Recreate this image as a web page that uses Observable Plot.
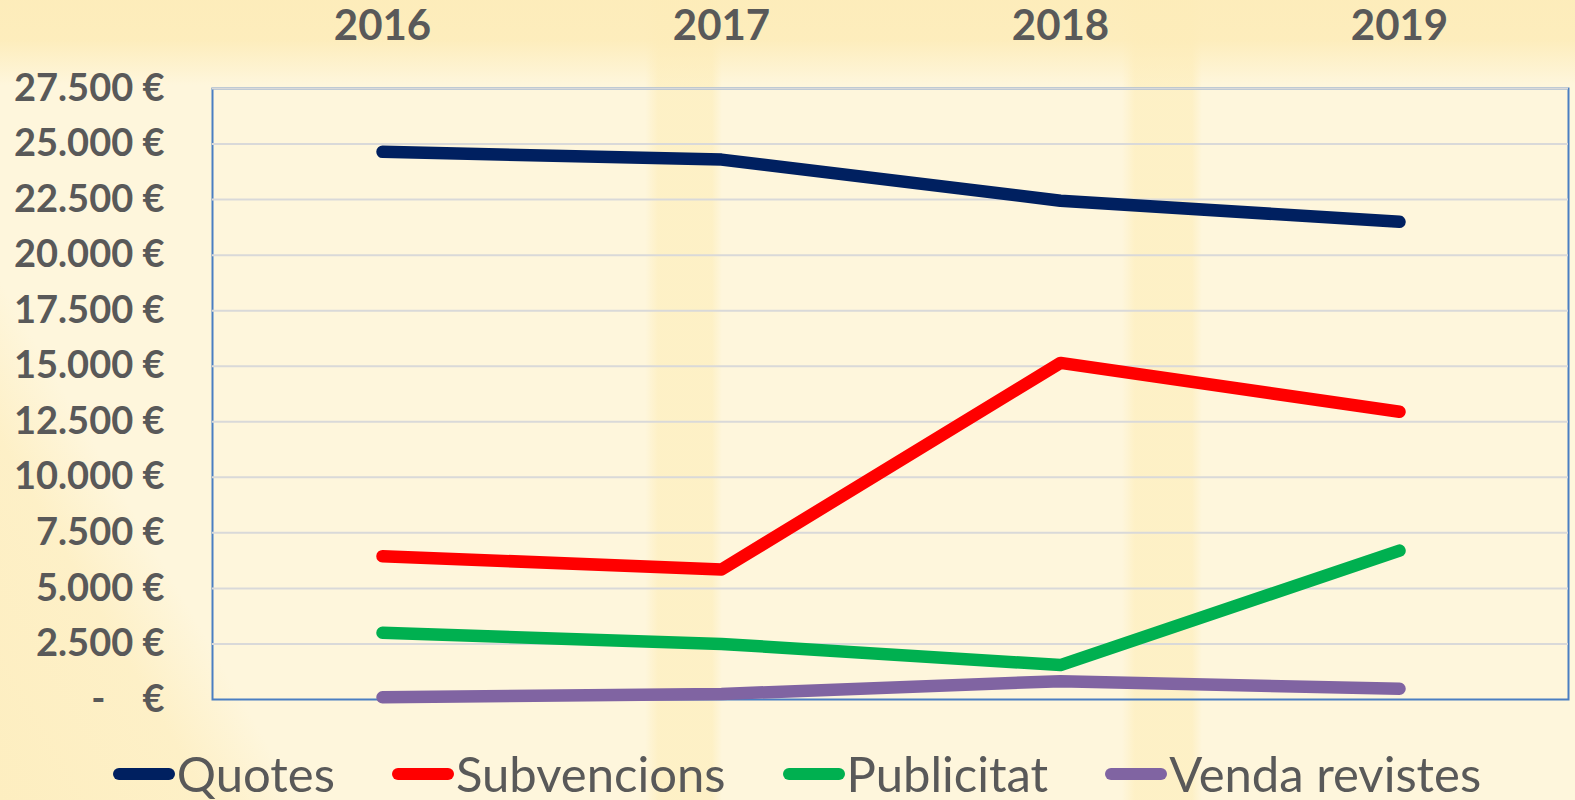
<!DOCTYPE html>
<html>
<head>
<meta charset="utf-8">
<script src="https://cdn.jsdelivr.net/npm/d3@7"></script>
<script src="https://cdn.jsdelivr.net/npm/@observablehq/plot@0.6"></script>
<style>
  html, body { margin: 0; padding: 0; }
  body {
    width: 1575px; height: 800px; overflow: hidden; position: relative;
    font-family: Lato, "Open Sans", sans-serif;
    background:
      linear-gradient(to bottom, rgba(253,236,185,0.95) 0px, rgba(253,236,185,0.9) 40px, rgba(254,246,220,0) 85px),
      linear-gradient(to right, rgba(0,0,0,0) 645px, rgba(253,236,180,0.55) 658px, rgba(253,236,180,0.55) 712px, rgba(0,0,0,0) 722px),
      linear-gradient(to right, rgba(0,0,0,0) 1122px, rgba(253,236,180,0.55) 1135px, rgba(253,236,180,0.55) 1192px, rgba(0,0,0,0) 1202px),
      linear-gradient(60deg, rgba(253,236,185,0.8) 0px, rgba(253,236,185,0.6) 180px, rgba(254,246,220,0) 260px),
      #FEF6DC;
  }
  #chart { position: absolute; left: 0; top: 0; }
  #legend {
    position: absolute; left: 0; top: 749px; width: 1575px;
    display: flex; justify-content: center; align-items: center;
    padding-left: 19px; box-sizing: border-box;
    font-family: Lato, "Open Sans", sans-serif; font-size: 49px; line-height: 1;
    color: #595959; gap: 57px;
  }
  .item { display: flex; align-items: center; white-space: nowrap; }
  .sw { width: 62px; height: 12px; border-radius: 6px; margin-right: 2px; }
</style>
</head>
<body>
<div id="chart"></div>
<div id="legend"></div>
<script>
const years = ["2016", "2017", "2018", "2019"];
const seriesNames = ["Quotes", "Subvencions", "Publicitat", "Venda revistes"];
const seriesColors = ["#002060", "#FF0000", "#00B050", "#8064A2"];
const quotes = [24650, 24300, 22450, 21500];
const subvencions = [6450, 5850, 15150, 12950];
const publicitat = [3000, 2500, 1550, 6700];
const vendaRevistes = [100, 250, 825, 480];
const yTicks = [0, 2500, 5000, 7500, 10000, 12500, 15000, 17500, 20000, 22500, 25000, 27500];

const seriesValues = [quotes, subvencions, publicitat, vendaRevistes];
const data = [];
seriesNames.forEach((name, i) => {
  years.forEach((yr, j) => data.push({series: name, year: yr, value: seriesValues[i][j]}));
});

const loc = d3.formatLocale({decimal: ",", thousands: ".", grouping: [3], currency: ["", " €"]});
const fmt = loc.format(",d");
const yFormat = d => d === 0 ? "-\u00A0\u00A0\u00A0\u00A0€" : fmt(d) + " €";

const chart = Plot.plot({
  width: 1575,
  height: 720,
  marginLeft: 212,
  marginRight: 7,
  marginTop: 88,
  marginBottom: 21,
  style: {background: "transparent", fontFamily: "Lato, 'Open Sans', sans-serif", color: "#595959"},
  x: {type: "point", domain: years, padding: 0.5},
  y: {domain: [0, 27500]},
  color: {domain: seriesNames, range: seriesColors},
  marks: [
    Plot.frame({stroke: "#4A7EC2", strokeWidth: 2}),
    Plot.ruleY(yTicks.filter(v => v > 0), {stroke: "#D9D9D9", strokeWidth: 2}),
    Plot.axisY(yTicks, {tickSize: 0, tickPadding: 48, tickFormat: yFormat, fontSize: 38, fontWeight: "bold", fill: "#595959", label: null}),
    Plot.axisX({anchor: "top", tickSize: 0, tickPadding: 49, fontSize: 42, fontWeight: "bold", fill: "#595959", label: null}),
    Plot.line(data, {x: "year", y: "value", z: "series", stroke: "series", strokeWidth: 12.5, strokeLinecap: "round", strokeLinejoin: "round"})
  ]
});
document.getElementById("chart").appendChild(chart);

const legend = document.getElementById("legend");
seriesNames.forEach((name, i) => {
  const item = document.createElement("div");
  item.className = "item";
  const sw = document.createElement("div");
  sw.className = "sw";
  sw.style.background = seriesColors[i];
  const t = document.createElement("span");
  t.textContent = name;
  item.appendChild(sw);
  item.appendChild(t);
  legend.appendChild(item);
});
</script>
</body>
</html>
